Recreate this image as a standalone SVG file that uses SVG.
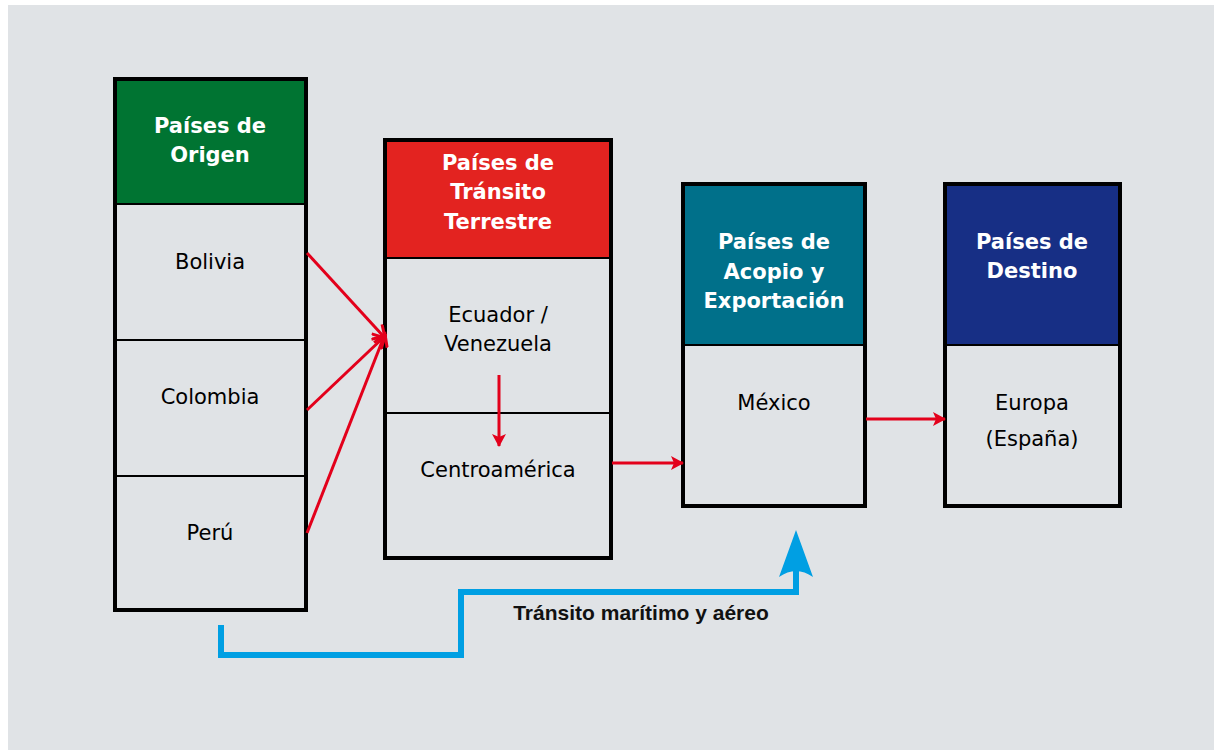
<svg xmlns="http://www.w3.org/2000/svg" width="1214" height="750" viewBox="0 0 1214 750">
<style>
.box{fill:#e0e3e6;stroke:#000;stroke-width:4}
.div{stroke:#000;stroke-width:2}
.hd{font-family:"DejaVu Sans",Verdana,sans-serif;font-weight:bold;font-size:21px;fill:#fff;text-anchor:middle}
.tx{font-family:"DejaVu Sans",Verdana,sans-serif;font-size:21px;fill:#000;text-anchor:middle}
.red{stroke:#e3001b;stroke-width:3;fill:none}
</style>
<defs>
<marker id="ah" markerWidth="14" markerHeight="14" refX="12" refY="7" orient="auto" markerUnits="userSpaceOnUse">
<path d="M0,0 L13,7 L0,14 L3,7 Z" fill="#e3001b"/>
</marker>
<marker id="ac" markerWidth="16" markerHeight="16" refX="13" refY="8" orient="auto" markerUnits="userSpaceOnUse">
<path d="M1,1 L13,8 L1,15" fill="none" stroke="#e3001b" stroke-width="3"/>
</marker>
</defs>
<rect x="8" y="5" width="1206" height="745" fill="#e0e3e6"/>
<g id="origen">
<rect class="box" x="115" y="79" width="191" height="531"/>
<rect x="117" y="81" width="187" height="122" fill="#007432"/>
<line class="div" x1="115" y1="204" x2="306" y2="204"/>
<line class="div" x1="115" y1="340" x2="306" y2="340"/>
<line class="div" x1="115" y1="476" x2="306" y2="476"/>
<text class="hd" x="210" y="133">Países de</text>
<text class="hd" x="210" y="162">Origen</text>
<text class="tx" x="210" y="269">Bolivia</text>
<text class="tx" x="210" y="404">Colombia</text>
<text class="tx" x="210" y="540">Perú</text>
</g>
<g id="transito">
<rect class="box" x="385" y="140" width="226" height="418"/>
<rect x="387" y="142" width="222" height="115" fill="#e32320"/>
<line class="div" x1="385" y1="258" x2="611" y2="258"/>
<line class="div" x1="385" y1="413" x2="611" y2="413"/>
<text class="hd" x="498" y="170">Países de</text>
<text class="hd" x="498" y="199">Tránsito</text>
<text class="hd" x="498" y="229">Terrestre</text>
<text class="tx" x="498" y="322">Ecuador /</text>
<text class="tx" x="498" y="351">Venezuela</text>
<text class="tx" x="498" y="477">Centroamérica</text>
</g>
<g id="acopio">
<rect class="box" x="683" y="184" width="182" height="322"/>
<rect x="685" y="186" width="178" height="158" fill="#00708a"/>
<line class="div" x1="683" y1="345" x2="865" y2="345"/>
<text class="hd" x="774" y="249">Países de</text>
<text class="hd" x="774" y="279">Acopio y</text>
<text class="hd" x="774" y="308">Exportación</text>
<text class="tx" x="774" y="410">México</text>
</g>
<g id="destino">
<rect class="box" x="945" y="184" width="175" height="322"/>
<rect x="947" y="186" width="171" height="158" fill="#172f85"/>
<line class="div" x1="945" y1="345" x2="1120" y2="345"/>
<text class="hd" x="1032" y="249">Países de</text>
<text class="hd" x="1032" y="278">Destino</text>
<text class="tx" x="1032" y="410">Europa</text>
<text class="tx" x="1032" y="446">(España)</text>
</g>
<g id="connectors">
<line class="red" x1="307" y1="253" x2="385" y2="338" marker-end="url(#ac)"/>
<line class="red" x1="307" y1="410" x2="385" y2="336" marker-end="url(#ac)"/>
<line class="red" x1="307" y1="533" x2="385" y2="334" marker-end="url(#ac)"/>
<line class="red" x1="499" y1="375" x2="499" y2="446" stroke-width="4" marker-end="url(#ah)"/>
<line class="red" x1="612" y1="463" x2="683" y2="463" stroke-width="4" marker-end="url(#ah)"/>
<line class="red" x1="866" y1="419" x2="945" y2="419" stroke-width="4" marker-end="url(#ah)"/>
<path d="M221,625 V655 H461 V592 H796 V568" fill="none" stroke="#009fe3" stroke-width="6"/>
<path d="M796,530 L813,577 Q796,565 779,577 Z" fill="#009fe3"/>
<text x="641" y="620" font-family="Liberation Sans,Arial,sans-serif" font-weight="bold" font-size="21" text-anchor="middle" fill="#111">Tránsito marítimo y aéreo</text>
</g>
</svg>
